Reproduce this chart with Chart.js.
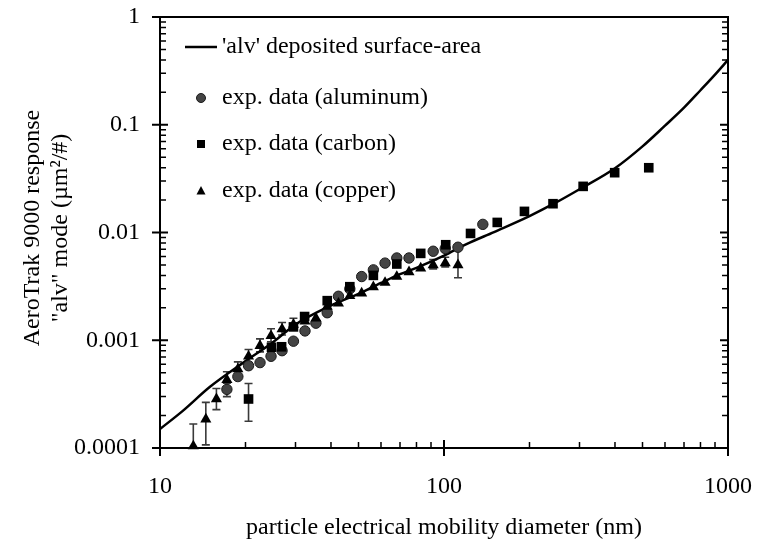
<!DOCTYPE html>
<html>
<head>
<meta charset="utf-8">
<script src="https://cdn.jsdelivr.net/npm/chart.js@4"></script>
<style>
  html, body { margin: 0; padding: 0; background: #fff; }
  #wrap { width: 757px; height: 548px; }
</style>
</head>
<body>
<div id="wrap"><canvas id="chart" width="757" height="548"></canvas></div>
<script>
const serif = '"Liberation Serif", "Times New Roman", serif';

// axis ticks
const xTickValues = [10, 100, 1000];
const xTickLabels = ['10', '100', '1000'];
const yTickValues = [0.0001, 0.001, 0.01, 0.1, 1];
const yTickLabels = ['0.0001', '0.001', '0.01', '0.1', '1'];

// 'alv' deposited surface-area (model curve)
const curveDiam = [10, 12, 15, 20, 25, 30, 40, 50, 60, 70, 80, 100, 120, 150, 200, 250, 300, 400, 500, 600, 700, 800, 900, 1000];
const curveResp = [0.00015, 0.00022, 0.00037, 0.00064, 0.00096, 0.0014, 0.0021, 0.0027, 0.0034, 0.0041, 0.0047, 0.0061, 0.0078, 0.0101, 0.0142, 0.0192, 0.0252, 0.0395, 0.063, 0.098, 0.144, 0.209, 0.292, 0.40];

// exp. data (aluminum)
const alDiam = [17.2, 18.8, 20.5, 22.5, 24.6, 26.9, 29.5, 32.4, 35.4, 38.8, 42.5, 46.6, 51.3, 56.4, 62.0, 68.2, 75.3, 91.6, 101, 112, 137];
const alResp = [0.00035, 0.00046, 0.00058, 0.00062, 0.00071, 0.00080, 0.00098, 0.00122, 0.00144, 0.0018, 0.00256, 0.0030, 0.0039, 0.0045, 0.0052, 0.0058, 0.0058, 0.0067, 0.0071, 0.0073, 0.0119];
const alLow  = [0.00030, null, null, null, null, null, null, null, null, null, null, null, null, null, null, null, null, null, null, null, null];
const alHigh = [0.00040, null, null, null, null, null, null, null, null, null, null, null, null, null, null, null, null, null, null, null, null];

// exp. data (carbon)
const cDiam = [20.5, 24.7, 26.8, 29.5, 32.3, 38.8, 46.6, 56.4, 68.2, 82.8, 101.4, 124, 154, 192, 242, 309, 399, 526];
const cResp = [0.000285, 0.00086, 0.00087, 0.00133, 0.00166, 0.00233, 0.00314, 0.0040, 0.0051, 0.0064, 0.0077, 0.0098, 0.0124, 0.0157, 0.0185, 0.0268, 0.0359, 0.0399];
const cLow  = [0.000177, null, null, null, null, null, null, null, null, null, null, null, null, null, null, null, null, null];
const cHigh = [0.000397, null, null, null, null, null, null, null, null, null, null, null, null, null, null, null, null, null];

// exp. data (copper)
const cuDiam = [13.1, 14.5, 15.8, 17.2, 18.8, 20.5, 22.5, 24.6, 26.9, 29.5, 32.4, 35.4, 38.8, 42.5, 46.6, 51.3, 56.4, 62.0, 68.2, 75.3, 82.8, 91.6, 101, 112];
const cuResp = [0.000104, 0.000185, 0.000285, 0.00043, 0.00054, 0.00071, 0.00089, 0.0011, 0.00127, 0.0014, 0.0015, 0.0016, 0.00205, 0.0022, 0.00258, 0.00273, 0.00312, 0.00343, 0.0039, 0.0043, 0.00466, 0.0050, 0.0052, 0.0050];
const cuLow  = [0.00006, 0.000107, 0.000227, 0.00037, 0.00047, 0.00062, 0.00078, 0.00097, 0.00112, 0.00124, null, null, null, null, null, null, null, null, null, null, null, 0.0046, 0.0048, 0.0038];
const cuHigh = [0.000167, 0.000265, 0.000357, 0.00051, 0.00063, 0.00082, 0.00103, 0.00128, 0.00146, 0.00160, null, null, null, null, null, null, null, null, null, null, null, 0.0056, 0.0059, 0.0069];

const toXY = (xs, ys) => xs.map((x, i) => ({ x: x, y: ys[i] }));

const errorSets = [
    { diam: alDiam, low: alLow, high: alHigh },
    { diam: cDiam, low: cLow, high: cHigh },
    { diam: cuDiam, low: cuLow, high: cuHigh }
];

const errorBars = {
    id: 'errorBars',
    beforeDatasetsDraw(chart) {
        const { ctx, chartArea: a, scales: { x, y } } = chart;
        ctx.save();
        ctx.strokeStyle = '#3a3a3a';
        ctx.lineWidth = 1.6;
        ctx.beginPath();
        errorSets.forEach(s => {
            s.diam.forEach((d, i) => {
                if (s.low[i] == null) return;
                const px = x.getPixelForValue(d);
                const lo = Math.min(y.getPixelForValue(s.low[i]), a.bottom);
                const hi = y.getPixelForValue(s.high[i]);
                ctx.moveTo(px, lo); ctx.lineTo(px, hi);
                ctx.moveTo(px - 4, hi); ctx.lineTo(px + 4, hi);
                if (lo < a.bottom) { ctx.moveTo(px - 4, lo); ctx.lineTo(px + 4, lo); }
            });
        });
        ctx.stroke();
        ctx.restore();
    }
};

const frame = {
    id: 'frame',
    afterDraw(chart) {
        const { ctx, chartArea: a, scales: { x, y } } = chart;
        ctx.save();
        ctx.strokeStyle = '#000';
        ctx.lineWidth = 2;
        ctx.strokeRect(a.left, a.top, a.right - a.left, a.bottom - a.top);

        // minor ticks
        ctx.lineWidth = 1.5;
        ctx.beginPath();
        for (let d = 0.0001; d < 1; d *= 10) {
            for (let k = 2; k <= 9; k++) {
                const py = y.getPixelForValue(k * d);
                ctx.moveTo(a.left, py); ctx.lineTo(a.left + 6, py);
                ctx.moveTo(a.right, py); ctx.lineTo(a.right - 6, py);
            }
        }
        for (let d = 10; d < 1000; d *= 10) {
            for (let k = 2; k <= 9; k++) {
                const px = x.getPixelForValue(k * d);
                ctx.moveTo(px, a.bottom); ctx.lineTo(px, a.bottom - 6);
            }
        }
        ctx.stroke();

        // major ticks
        ctx.lineWidth = 2;
        ctx.beginPath();
        yTickValues.forEach(v => {
            const py = y.getPixelForValue(v);
            ctx.moveTo(a.left - 8, py); ctx.lineTo(a.left + 8, py);
            ctx.moveTo(a.right, py); ctx.lineTo(a.right - 8, py);
        });
        xTickValues.forEach(v => {
            const px = x.getPixelForValue(v);
            ctx.moveTo(px, a.bottom + 8); ctx.lineTo(px, a.bottom - 8);
        });
        ctx.stroke();

        // axis titles
        ctx.fillStyle = '#000';
        ctx.font = '24px ' + serif;
        ctx.textAlign = 'center';
        ctx.textBaseline = 'middle';
        ctx.fillText('particle electrical mobility diameter (nm)', (a.left + a.right) / 2, 528);
        ctx.save();
        ctx.translate(33, 228);
        ctx.rotate(-Math.PI / 2);
        ctx.fillText('AeroTrak 9000 response', 0, 0);
        ctx.fillText('"alv" mode (\u00b5m\u00b2/#)', 0, 28);
        ctx.restore();

        // legend
        ctx.textAlign = 'left';
        ctx.lineWidth = 2.5;
        ctx.beginPath();
        ctx.moveTo(185, 47); ctx.lineTo(217, 47);
        ctx.stroke();
        ctx.fillText("'alv' deposited surface-area", 222, 47);

        ctx.fillStyle = '#444';
        ctx.strokeStyle = '#1a1a1a';
        ctx.lineWidth = 1;
        ctx.beginPath();
        ctx.arc(201, 98, 4.5, 0, Math.PI * 2);
        ctx.fill(); ctx.stroke();

        ctx.fillStyle = '#000';
        ctx.fillRect(197, 140, 8, 8);

        ctx.beginPath();
        ctx.moveTo(201, 186); ctx.lineTo(205.5, 194.5); ctx.lineTo(196.5, 194.5);
        ctx.closePath();
        ctx.fill();

        ctx.fillText('exp. data (aluminum)', 222, 98);
        ctx.fillText('exp. data (carbon)', 222, 144);
        ctx.fillText('exp. data (copper)', 222, 191);
        ctx.restore();
    }
};

new Chart(document.getElementById('chart'), {
    type: 'scatter',
    data: {
        datasets: [
            {
                label: "'alv' deposited surface-area",
                data: toXY(curveDiam, curveResp),
                showLine: true,
                borderColor: '#000',
                borderWidth: 2.5,
                pointRadius: 0,
                cubicInterpolationMode: 'monotone',
                order: 4
            },
            {
                label: 'exp. data (aluminum)',
                data: toXY(alDiam, alResp),
                pointStyle: 'circle',
                pointRadius: 5.2,
                backgroundColor: '#444',
                borderColor: '#1a1a1a',
                borderWidth: 1,
                clip: false,
                order: 3
            },
            {
                label: 'exp. data (carbon)',
                data: toXY(cDiam, cResp),
                pointStyle: 'rect',
                pointRadius: 6.8,
                backgroundColor: '#000',
                borderColor: '#000',
                borderWidth: 0,
                clip: false,
                order: 1
            },
            {
                label: 'exp. data (copper)',
                data: toXY(cuDiam, cuResp),
                pointStyle: 'triangle',
                pointRadius: 6.4,
                backgroundColor: '#000',
                borderColor: '#000',
                borderWidth: 0,
                clip: false,
                order: 2
            }
        ]
    },
    options: {
        responsive: false,
        animation: false,
        layout: { padding: { top: 17, right: 29, left: 0, bottom: 0 } },
        plugins: {
            legend: { display: false },
            tooltip: { enabled: false }
        },
        scales: {
            x: {
                type: 'logarithmic',
                min: 10,
                max: 1000,
                afterBuildTicks: s => { s.ticks = xTickValues.map(v => ({ value: v })); },
                afterFit: s => { s.height = 100; s.paddingLeft = 0; s.paddingRight = 0; },
                grid: { display: false, drawTicks: false, tickLength: 0 },
                border: { display: false },
                ticks: {
                    autoSkip: false,
                    maxRotation: 0,
                    padding: 24,
                    color: '#000',
                    font: { family: serif, size: 24 },
                    callback: (v) => xTickLabels[xTickValues.indexOf(v)]
                }
            },
            y: {
                type: 'logarithmic',
                min: 0.0001,
                max: 1,
                afterBuildTicks: s => { s.ticks = yTickValues.map(v => ({ value: v })); },
                afterFit: s => { s.width = 160; s.paddingTop = 0; s.paddingBottom = 0; },
                grid: { display: false, drawTicks: false, tickLength: 0 },
                border: { display: false },
                ticks: {
                    autoSkip: false,
                    padding: 20,
                    color: '#000',
                    font: { family: serif, size: 24 },
                    callback: (v) => yTickLabels[yTickValues.indexOf(v)]
                }
            }
        }
    },
    plugins: [errorBars, frame]
});
</script>
</body>
</html>
